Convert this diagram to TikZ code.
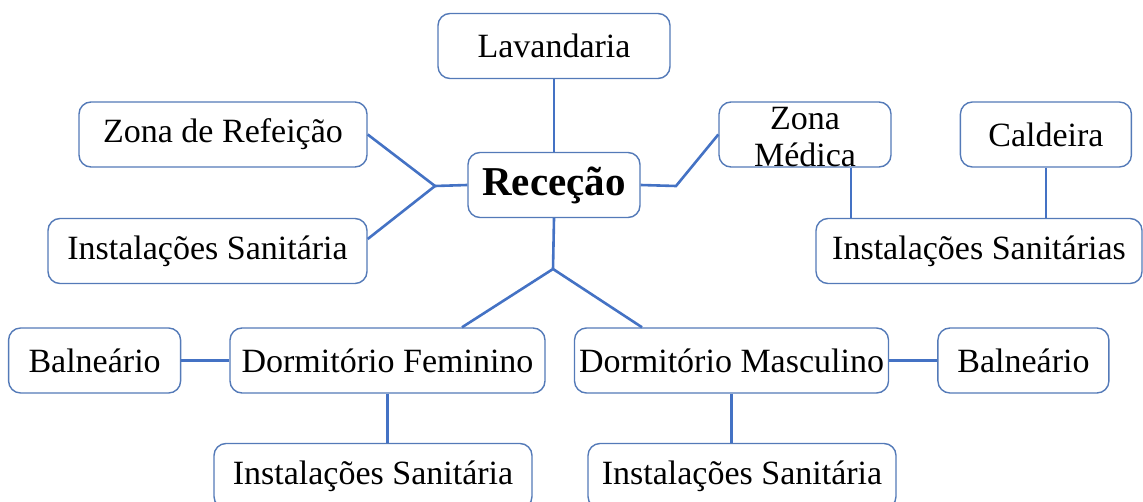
\documentclass[tikz,border=0pt]{standalone}
\usepackage{fontspec}
\setmainfont{Liberation Serif}
\usetikzlibrary{positioning, calc}
\definecolor{boxline}{RGB}{84,122,184}
\definecolor{linkline}{RGB}{68,114,196}
\tikzset{
  box/.style={
    rectangle, rounded corners=6pt, minimum height=32.5pt, inner sep=0pt,
    text centered, draw=boxline, line width=0.7pt, fill=white,
    font=\fontsize{17}{18.5}\selectfont
  },
  hub/.style={
    box, font=\fontsize{20.5}{24}\selectfont\bfseries
  },
  link/.style={
    draw=linkline, line width=1.3pt
  }
}

\begin{document}
\begin{tikzpicture}[x=0.5pt, y=-0.5pt, node distance=24pt]
\useasboundingbox (0,0) rectangle (1143,502);
% centro
\node[hub, minimum width=86pt] (rec) at (554,185) {Receção};
\node[box, minimum width=116pt] (lav) at (554,46) {Lavandaria};
\node[box, minimum width=144pt] (refe) at (223,134.5) {Zona de Refeição};
\node[box, minimum width=159.5pt] (sanEsq) at (207.5,251) {Instalações Sanitária};
\node[box, minimum width=86pt, align=center, text height=32.5pt, text depth=0pt] (medica) at (805,134.5) {Zona\\Médica};
\node[box, minimum width=85.5pt, right=34pt of medica] (cald) {Caldeira};
\node[box, minimum width=163pt] (sanDir) at (979,251) {Instalações Sanitárias};
% dormitorios
\node[box, minimum width=157.5pt] (dormF) at (387.5,360.5) {Dormitório Feminino};
\node[box, minimum width=157pt] (dormM) at (731.5,360.5) {Dormitório Masculino};
\node[box, minimum width=86pt, left=of dormF] (balEsq) {Balneário};
\node[box, minimum width=85.5pt, right=of dormM] (balDir) {Balneário};
\node[box, minimum width=159pt] (sanF) at (373,476) {Instalações Sanitária};
\node[box, minimum width=154pt] (sanM) at (742,476) {Instalações Sanitária};

\coordinate (jl) at (435,186);
\coordinate (knee) at (676,186);
\coordinate (jb) at (553,269);
\coordinate (m1) at ([xshift=23pt]medica.south);

\draw[link] (lav.south) -- (rec.north);
\draw[link] (refe.east) -- (jl) -- ([yshift=6pt]sanEsq.east);
\draw[link] (jl) -- (rec.west);
\draw[link] (rec.east) -- (knee) -- (medica.west);
\draw[link] (m1) -- (m1 |- sanDir.north);
\draw[link] (cald.south) -- (cald.south |- sanDir.north);
\draw[link] (rec.south) -- (jb) -- ([xshift=37.25pt]dormF.north);
\draw[link] (jb) -- ([xshift=-44.75pt]dormM.north);
\draw[link] (balEsq.east) -- (dormF.west);
\draw[link] (dormM.east) -- (balDir.west);
\draw[link] (dormF.south) -- (dormF.south |- sanF.north);
\draw[link] (dormM.south) -- (dormM.south |- sanM.north);
\end{tikzpicture}
\end{document}
